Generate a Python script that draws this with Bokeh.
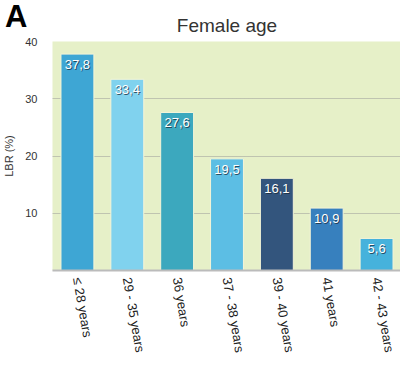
from bokeh.plotting import figure
from bokeh.models import ColumnDataSource, Range1d, FactorRange, FixedTicker, Div
from bokeh.layouts import column
from bokeh.embed import file_html
from bokeh.resources import INLINE
from bokeh.core.properties import value

categories = ["≤ 28 years", "29 - 35 years", "36 years", "37 - 38 years",
              "39 - 40 years", "41 years", "42 - 43 years"]
lbr = [37.8, 33.4, 27.6, 19.5, 16.1, 10.9, 5.6]
value_labels = ["37,8", "33,4", "27,6", "19,5", "16,1", "10,9", "5,6"]
bar_colors = ["#3EA6D4", "#80D2EE", "#3CA8BE", "#5CBEE4", "#33557D", "#3780BE", "#46B2DC"]
y_ticks = [10, 20, 30, 40]
panel_letter = "A"
chart_title = "Female age"

FONT = "Liberation Sans"

src = ColumnDataSource(dict(cat=categories, val=lbr, lab=value_labels, col=bar_colors))

p = figure(x_range=FactorRange(*categories, range_padding=0), y_range=Range1d(0, 40),
           frame_width=349, frame_height=229, output_backend="svg", toolbar_location=None,
           min_border_left=48, min_border_right=3, min_border_top=41, min_border_bottom=100,
           title=chart_title)

p.title.align = "center"
p.title.vertical_align = "top"
p.title.text_font = FONT
p.title.text_font_size = "19px"
p.title.text_font_style = "normal"
p.title.text_color = "#333333"
p.title.standoff = 7

p.background_fill_color = "#E6F0C8"
p.border_fill_color = "white"
p.outline_line_color = None

p.vbar(x="cat", top="val", width=0.66, source=src, fill_color="col",
       line_color="#F4F4D8", line_width=1)

p.text(x="cat", y="val", text="lab", source=src, x_offset=1, y_offset=7,
       text_align="center", text_baseline="top", text_color="#1a2a3a", text_alpha=0.75,
       text_font=value(FONT), text_font_size="13px")
p.text(x="cat", y="val", text="lab", source=src, x_offset=0, y_offset=6,
       text_align="center", text_baseline="top", text_color="white",
       text_font=value(FONT), text_font_size="13px")

p.xgrid.grid_line_color = None
p.ygrid.grid_line_color = "#999999"
p.ygrid.grid_line_dash = "1 1"
p.ygrid.ticker = FixedTicker(ticks=y_ticks)

p.yaxis.ticker = FixedTicker(ticks=y_ticks)
p.yaxis.axis_line_color = None
p.yaxis.major_tick_line_color = None
p.yaxis.major_tick_out = 0
p.yaxis.major_tick_in = 0
p.yaxis.minor_tick_line_color = None
p.yaxis.minor_tick_out = 0
p.yaxis.major_label_text_font = FONT
p.yaxis.major_label_text_font_size = "11px"
p.yaxis.major_label_text_color = "#333333"
p.yaxis.major_label_standoff = 15
p.yaxis.axis_label = "LBR (%)"
p.yaxis.axis_label_text_font = FONT
p.yaxis.axis_label_text_font_size = "11px"
p.yaxis.axis_label_text_font_style = "normal"
p.yaxis.axis_label_text_color = "#333333"
p.yaxis.axis_label_standoff = 7

p.xaxis.axis_line_color = "#BBBBBB"
p.xaxis.axis_line_width = 2
p.xaxis.major_tick_line_color = None
p.xaxis.major_tick_out = 0
p.xaxis.major_tick_in = 0
p.xaxis.minor_tick_line_color = None
p.xaxis.major_label_orientation = -1.40
p.xaxis.major_label_text_font = FONT
p.xaxis.major_label_text_font_size = "13px"
p.xaxis.major_label_text_color = "#222222"
p.xaxis.major_label_standoff = 7

letter = Div(
    text=('<span style="position:absolute;left:0px;top:0px;font-family:\'Liberation Sans\',Arial,sans-serif;'
          'font-weight:bold;font-size:31px;line-height:0.75;color:#000;z-index:10;">%s</span>' % panel_letter),
    width=40, height=0,
    styles={"position": "absolute", "left": "0px", "top": "0px", "overflow": "visible", "z-index": "10"})

layout = column(p, letter, spacing=0)

open("out.html", "w").write(file_html(layout, INLINE))
